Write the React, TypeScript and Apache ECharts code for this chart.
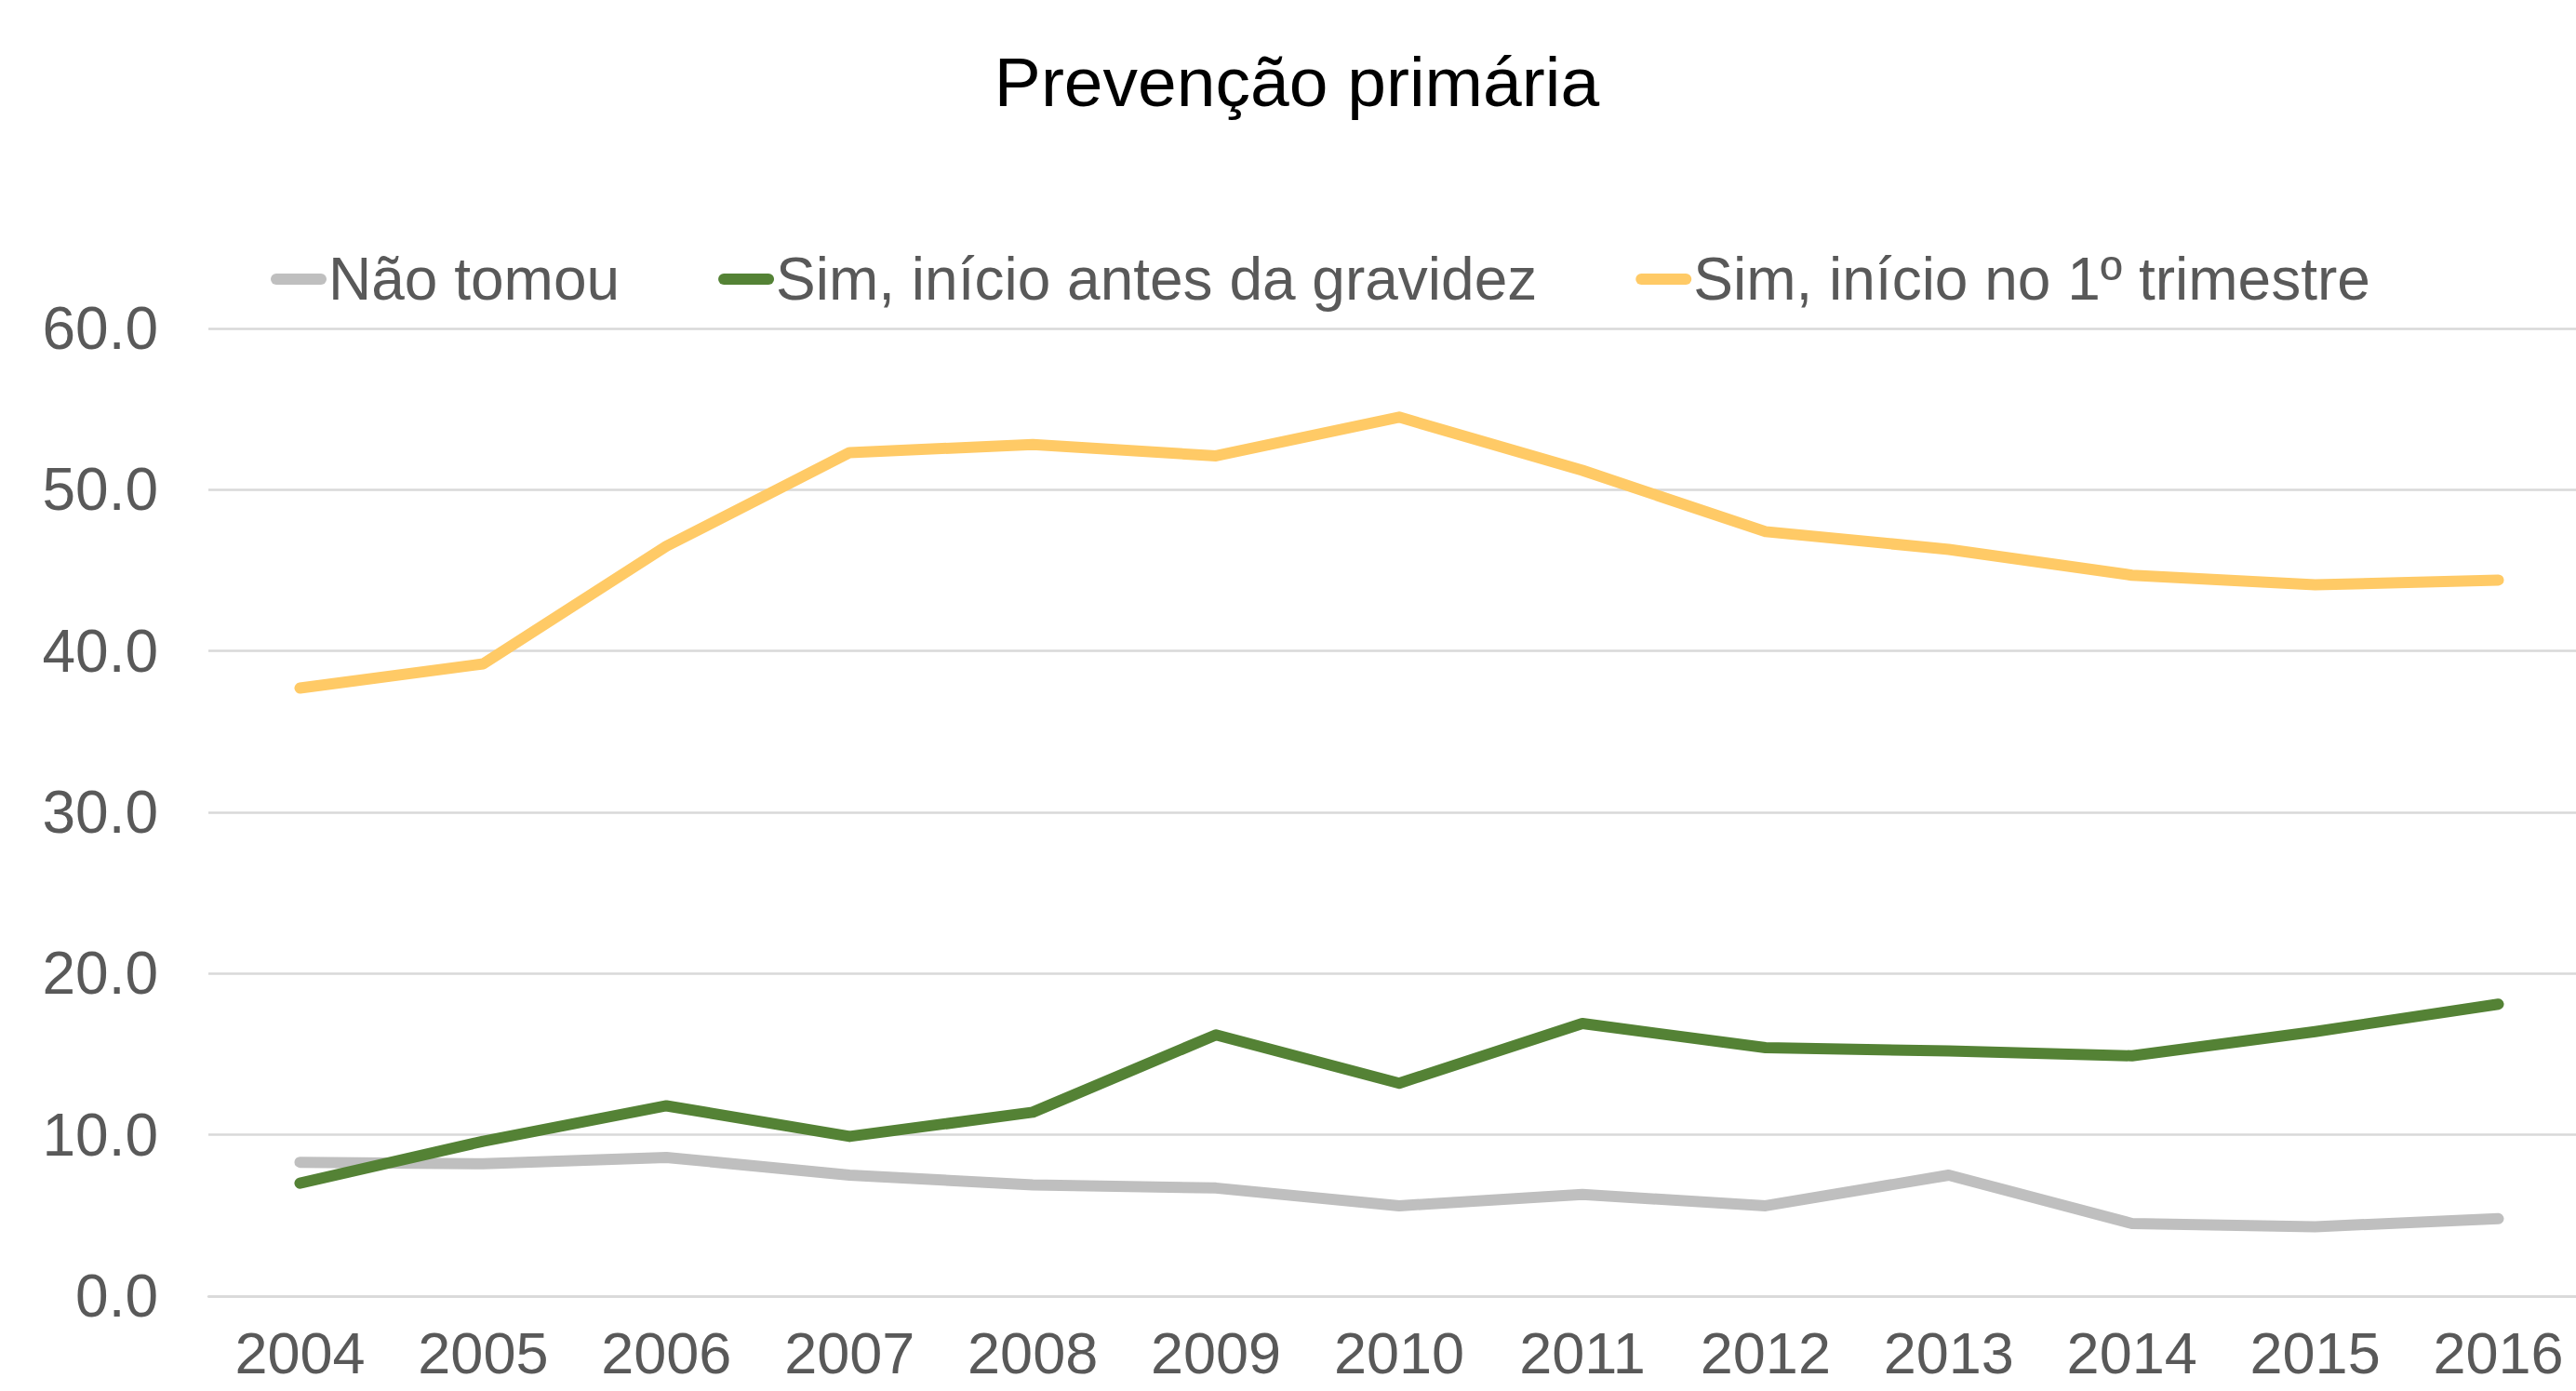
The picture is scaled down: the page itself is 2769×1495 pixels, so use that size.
import React, { useEffect, useRef } from "react";
import * as echarts from "echarts";

const years = ["2004", "2005", "2006", "2007", "2008", "2009", "2010", "2011", "2012", "2013", "2014", "2015", "2016"];
const naoTomou = [8.3, 8.2, 8.6, 7.5, 6.9, 6.7, 5.6, 6.3, 5.6, 7.5, 4.5, 4.3, 4.8];
const simAntes = [7.0, 9.6, 11.8, 9.9, 11.4, 16.2, 13.2, 16.9, 15.4, 15.2, 14.9, 16.4, 18.1];
const simPrimeiro = [37.7, 39.2, 46.5, 52.3, 52.8, 52.1, 54.5, 51.2, 47.4, 46.3, 44.7, 44.1, 44.4];
const seriesNames = ["Não tomou", "Sim, início antes da gravidez", "Sim, início no 1º trimestre"];
const seriesColors = ["#BFBFBF", "#548235", "#FFCA66"];
const titleText = "Prevenção primária";

const FONT = "'Liberation Sans', Arial, Helvetica, sans-serif";

export default function App() {
  const ref = useRef<HTMLDivElement>(null);
  useEffect(() => {
    if (!ref.current) return;
    const chart = echarts.init(ref.current, null, { renderer: "svg" });
    const data = [naoTomou, simAntes, simPrimeiro];
    chart.setOption({
      animation: false,
      backgroundColor: "#FFFFFF",
      title: {
        text: titleText,
        left: 1389,
        top: 45,
        textAlign: "center",
        textStyle: { fontSize: 75, fontWeight: "normal", color: "#000000", fontFamily: FONT },
      },
      legend: {
        left: 286,
        top: 263,
        itemWidth: 60,
        itemHeight: 12,
        itemGap: 106,
        icon: "path://M6,0 L54,0 A6,6 0 0 1 54,12 L6,12 A6,6 0 0 1 6,0 Z",
        textStyle: { fontSize: 64, color: "#595959", fontFamily: FONT, padding: [0, 0, 0, -3] },
        data: seriesNames,
      },
      grid: {
        left: 224,
        top: 353,
        width: 2560,
        height: 1040,
        containLabel: false,
        outerBoundsMode: "none",
      },
      xAxis: {
        type: "category",
        data: years,
        boundaryGap: true,
        axisLine: { show: true, lineStyle: { color: "#D9D9D9", width: 2.5 } },
        axisTick: { show: false },
        axisLabel: {
          fontSize: 63,
          lineHeight: 56,
          color: "#595959",
          fontFamily: FONT,
          margin: 33,
          interval: 0,
        },
        splitLine: { show: false },
      },
      yAxis: {
        type: "value",
        min: 0,
        max: 60,
        interval: 10,
        axisLine: { show: false },
        axisTick: { show: false },
        axisLabel: {
          fontSize: 64,
          color: "#595959",
          fontFamily: FONT,
          margin: 54,
          formatter: (v: number) => v.toFixed(1),
        },
        splitLine: { show: true, lineStyle: { color: "#D9D9D9", width: 2.5 } },
      },
      series: seriesNames.map((name, i) => ({
        name,
        type: "line",
        data: data[i],
        symbol: "none",
        color: seriesColors[i],
        lineStyle: { color: seriesColors[i], width: 12, cap: "round", join: "round" },
      })),
    });
    return () => chart.dispose();
  }, []);
  return (
    <div
      ref={ref}
      style={{ position: "fixed", left: 0, top: 0, width: "2769px", height: "1495px", background: "#fff" }}
    />
  );
}
